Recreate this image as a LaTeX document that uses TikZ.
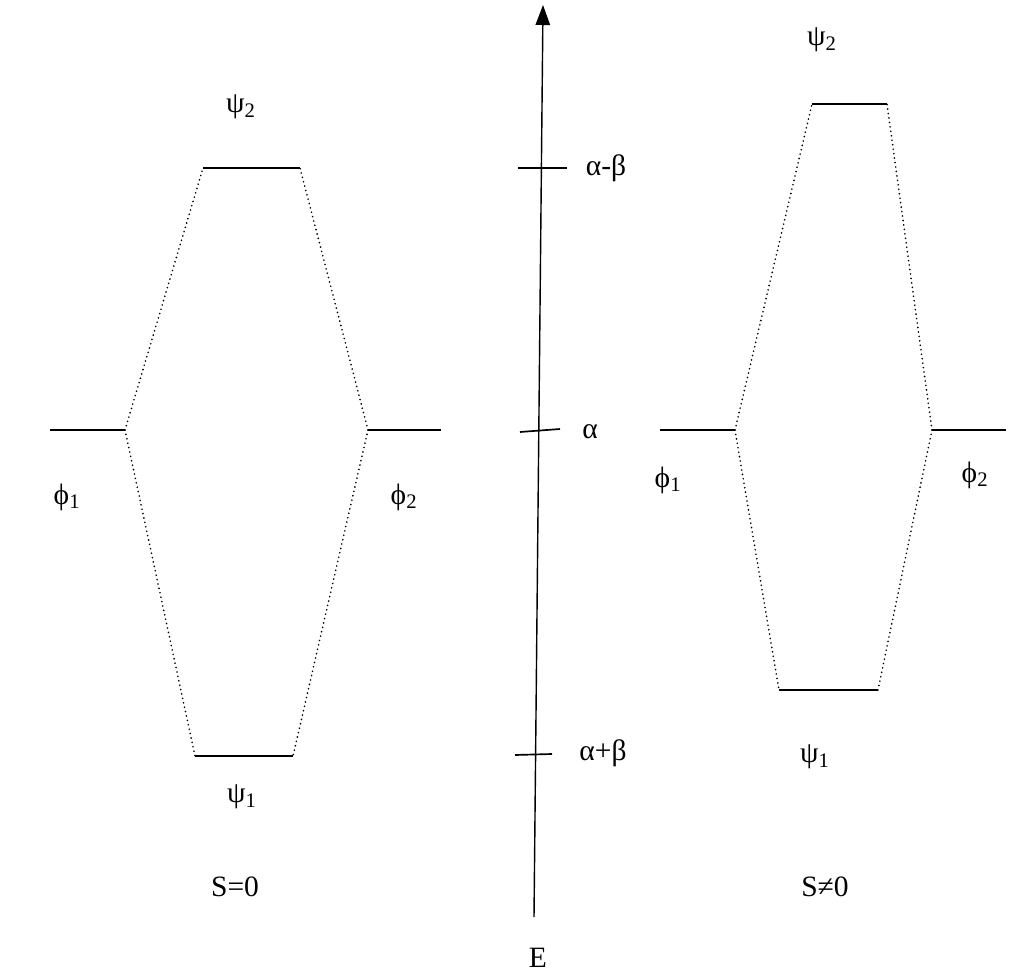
\documentclass[tikz,border=0pt]{standalone}
\usepackage{fontspec}
\setmainfont{Liberation Serif}
\usetikzlibrary{arrows.meta}

\begin{document}
\begin{tikzpicture}[x=0.025cm, y=-0.025cm,
   font=\fontsize{21}{25}\selectfont,
   level/.style={line width=1.4pt},
   corr/.style={line width=1.3pt, line cap=round, dash pattern=on 0pt off 3.2pt},
   tick/.style={line width=1.2pt},
   lab/.style={inner sep=1pt},
   axis/.style={line width=1pt, -{Triangle[length=5mm,width=3.6mm]}}]
   \useasboundingbox (0,0) rectangle (1012,978);
   % energy axis
   \coordinate (Ebot) at (534,917);
   \coordinate (Etop) at (543,5);
   \draw[axis] (Ebot) -- (Etop);
   \node[lab] (E) at (538,958) {E};
   \draw[tick] (518,168) -- (567,168);
   \draw[tick] (520,432) -- (560,429);
   \draw[tick] (515,755) -- (552,754);
   \node[lab] (amb) at (606,168) {α-β};
   \node[lab] (a) at (590,432) {α};
   \node[lab] (apb) at (603,753) {α+β};
   % S=0
   \coordinate (l1a) at (50,430);  \coordinate (l1b) at (125,430);
   \coordinate (l2a) at (368,430); \coordinate (l2b) at (441,430);
   \coordinate (lua) at (203,168); \coordinate (lub) at (300,168);
   \coordinate (lda) at (195,756); \coordinate (ldb) at (293,756);
   \draw[level] (l1a) -- (l1b);
   \draw[level] (l2a) -- (l2b);
   \draw[level] (lua) -- (lub);
   \draw[level] (lda) -- (ldb);
   \draw[corr] (l1b) -- (lua);
   \draw[corr] (l1b) -- (lda);
   \draw[corr] (l2a) -- (lub);
   \draw[corr] (l2a) -- (ldb);
   \node[lab] (lpsi2) at (241,107) {ψ\textsubscript{2}};
   \node[lab] (lpsi1) at (242,797) {ψ\textsubscript{1}};
   \node[lab] (lphi1) at (67,497) {ϕ\textsubscript{1}};
   \node[lab] (lphi2) at (404,497) {ϕ\textsubscript{2}};
   \node[lab] (lS) at (235,887) {S=0};
   % S!=0
   \coordinate (r1a) at (660,430); \coordinate (r1b) at (735,430);
   \coordinate (r2a) at (932,430); \coordinate (r2b) at (1006,430);
   \coordinate (rua) at (812,104); \coordinate (rub) at (887,104);
   \coordinate (rda) at (779,690); \coordinate (rdb) at (878,690);
   \draw[level] (r1a) -- (r1b);
   \draw[level] (r2a) -- (r2b);
   \draw[level] (rua) -- (rub);
   \draw[level] (rda) -- (rdb);
   \draw[corr] (r1b) -- (rua);
   \draw[corr] (r1b) -- (rda);
   \draw[corr] (r2a) -- (rub);
   \draw[corr] (r2a) -- (rdb);
   \node[lab] (rpsi2) at (822,40) {ψ\textsubscript{2}};
   \node[lab] (rpsi1) at (815,757) {ψ\textsubscript{1}};
   \node[lab] (rphi1) at (668,480) {ϕ\textsubscript{1}};
   \node[lab] (rphi2) at (975,475) {ϕ\textsubscript{2}};
   \node[lab] (rS) at (825,887) {S≠0};
\end{tikzpicture}
\end{document}
